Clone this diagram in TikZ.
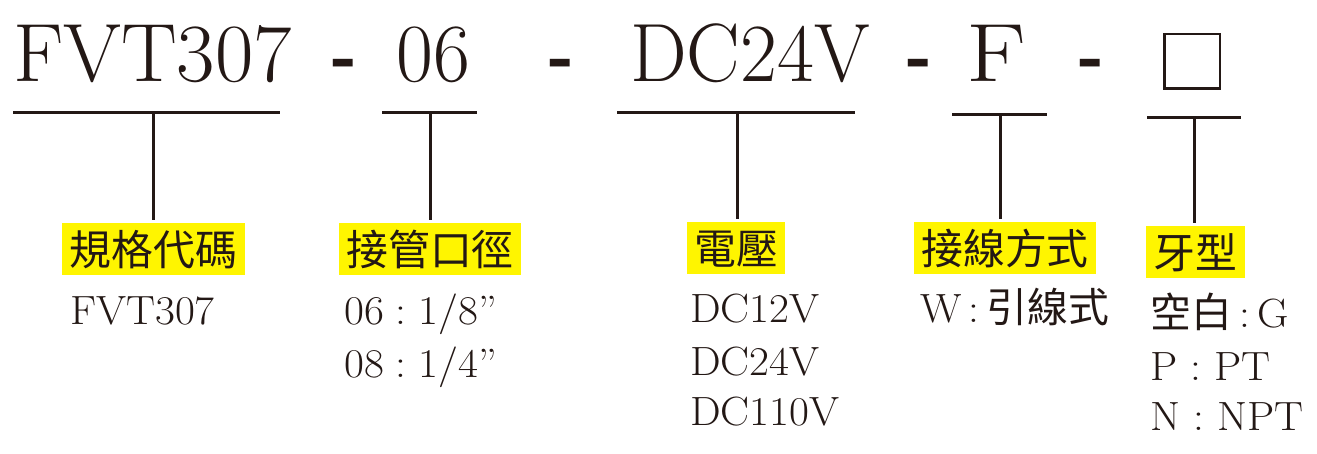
\documentclass[tikz,border=0pt]{standalone}
\usepackage{fontspec}
\usepackage{graphicx}
\setmainfont{Latin Modern Roman}
\newfontfamily\cjk{Noto Sans CJK TC}
\definecolor{ink}{RGB}{35,24,21}
\definecolor{hl}{RGB}{255,245,0}
\newcommand\sq[2][1.06]{\scalebox{#1}[1]{#2}}
\tikzset{
  big/.style={font=\fontsize{83}{90}\selectfont, inner sep=0, anchor=base, text=ink},
  hyph/.style={font=\fontsize{83}{90}\selectfont\bfseries, inner sep=0, anchor=base, text=ink},
  sm/.style={font=\fontsize{41}{48}\selectfont, inner sep=0, anchor=base west, text=ink},
  lab/.style={fill=hl, font=\cjk\fontsize{42}{48}\selectfont, text=ink, inner xsep=7.5bp, inner ysep=5bp, text height=37bp, text depth=5bp},
  rule/.style={line width=3bp, draw=ink},
  blank/.style={draw=ink, line width=2.5bp, minimum width=55.5bp, minimum height=54.5bp, inner sep=0},
}
\begin{document}
\begin{tikzpicture}[x=1bp,y=-1bp]
\useasboundingbox[fill=white] (0,0) rectangle (1317,454);
% top code
\node[big] (t1) at (152.5,82) {\sq[1.01]{FVT307}};
\node[hyph] (d1) at (345,82) {\sq[0.8]{-}};
\node[big] (t2) at (433,82) {\sq[0.97]{06}};
\node[hyph] (d2) at (561.5,82) {\sq[0.8]{-}};
\node[big] (t3) at (750,82) {\sq[0.97]{DC24V}};
\node[hyph] (d3) at (920,82) {\sq[0.8]{-}};
\node[big] (t4) at (996,82) {\sq[1.2]{F}};
\node[hyph] (d4) at (1091.5,82) {\sq[0.8]{-}};
\node[blank] (t5) at (1192,61.5) {};
% labels
\node[lab] (l1) at (153.5,249) {規格代碼};
\node[lab] (l2) at (430,249) {接管口徑};
\node[lab] (l3) at (736,248) {電壓};
\node[lab] (l4) at (1005,248) {接線方式};
\node[lab] (l5) at (1195.5,252.5) {牙型};
% bars
\coordinate (b1l) at (13,113);   \coordinate (b1r) at (280,113);  \coordinate (v1) at (153,113);
\coordinate (b2l) at (382,113);  \coordinate (b2r) at (477,113);  \coordinate (v2) at (430,113);
\coordinate (b3l) at (617,113);  \coordinate (b3r) at (855,113);  \coordinate (v3) at (737,113);
\coordinate (b4l) at (952,115);  \coordinate (b4r) at (1047,115); \coordinate (v4) at (1000,115);
\coordinate (b5l) at (1147,118); \coordinate (b5r) at (1241,118); \coordinate (v5) at (1194,118);
\foreach \i in {1,...,5}{
  \draw[rule] (b\i l) -- (b\i r);
  \draw[rule, shorten >=3bp] (v\i) -- (v\i |- l\i.north);
}
% option texts
\node[sm] (s1) at (70,325) {\sq{FVT307}};
\node[sm] (s2a) at (344,325) {\sq{06\;:\;1/8”}};
\node[sm] (s2b) at (344,377) {\sq{08\;:\;1/4”}};
\node[sm] (s3a) at (690,323) {\sq{DC12V}};
\node[sm] (s3b) at (690,375) {\sq{DC24V}};
\node[sm] (s3c) at (690,425) {\sq{DC110V}};
\node[sm] (s4) at (920,323) {\sq{W\,:\,}{\cjk 引線式}};
\node[sm] (s5a) at (1150,328) {{\cjk 空白}\sq{\,:\,G}};
\node[sm] (s5b) at (1150,380) {\sq{P : PT}};
\node[sm] (s5c) at (1150,430) {\sq{N : NPT}};
\end{tikzpicture}
\end{document}
